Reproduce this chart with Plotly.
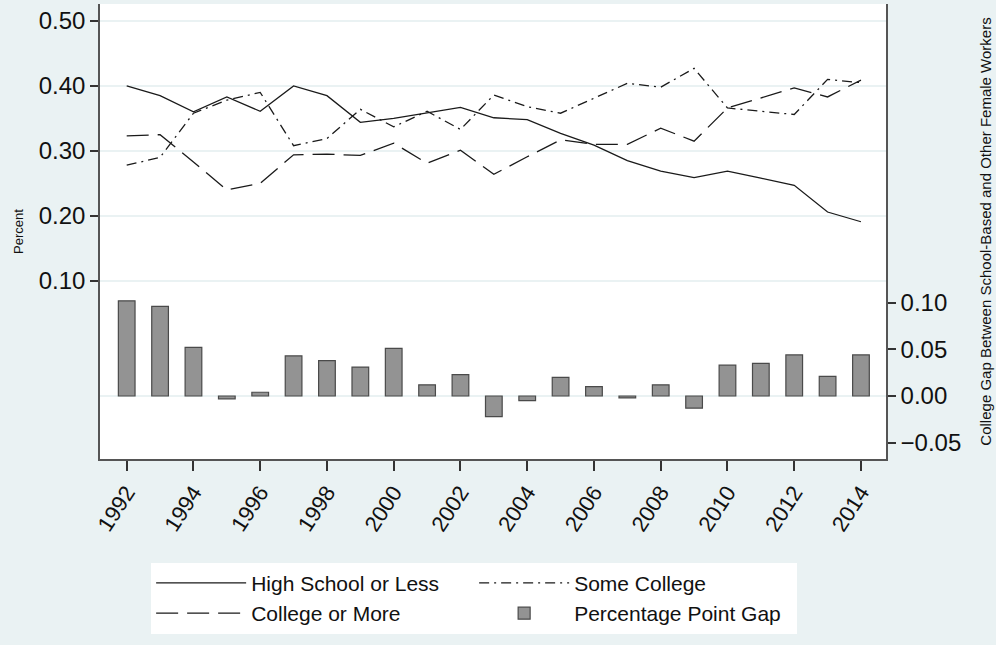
import plotly.graph_objects as go

years = list(range(1992, 2015))
high_school_or_less = [0.400, 0.385, 0.360, 0.383, 0.361, 0.400, 0.385, 0.344, 0.350, 0.358, 0.367,
                       0.351, 0.348, 0.327, 0.309, 0.285, 0.269, 0.259, 0.269, 0.258, 0.247, 0.206, 0.191]
some_college = [0.278, 0.290, 0.358, 0.378, 0.390, 0.308, 0.319, 0.364, 0.337, 0.361, 0.333,
                0.386, 0.368, 0.358, 0.381, 0.404, 0.398, 0.427, 0.366, 0.361, 0.356, 0.410, 0.405]
college_or_more = [0.323, 0.325, 0.283, 0.240, 0.250, 0.294, 0.295, 0.293, 0.312, 0.281, 0.301,
                   0.264, 0.291, 0.317, 0.310, 0.310, 0.335, 0.315, 0.366, 0.381, 0.397, 0.383, 0.409]
gap = [0.102, 0.096, 0.052, -0.003, 0.004, 0.043, 0.038, 0.031, 0.051, 0.012, 0.023,
       -0.022, -0.005, 0.020, 0.010, -0.002, 0.012, -0.013, 0.033, 0.035, 0.044, 0.021, 0.044]

left_ticks = [0.10, 0.20, 0.30, 0.40, 0.50]
right_ticks = [-0.05, 0.00, 0.05, 0.10]
x_ticks = list(range(1992, 2015, 2))

BG = "#EAF2F3"
FONT = "Liberation Sans, Arial, sans-serif"
LINE = "#1a1a1a"

fig = go.Figure()
fig.add_trace(go.Scatter(x=years, y=high_school_or_less, mode="lines", name="High School or Less",
                         line=dict(color=LINE, width=1.3, dash="solid")))
fig.add_trace(go.Scatter(x=years, y=some_college, mode="lines", name="Some College",
                         line=dict(color=LINE, width=1.3, dash="10px,5px,2px,5px")))
fig.add_trace(go.Scatter(x=years, y=college_or_more, mode="lines", name="College or More",
                         line=dict(color=LINE, width=1.3, dash="22px,9px")))
fig.add_trace(go.Bar(x=years, y=gap, name="Percentage Point Gap", yaxis="y2", width=0.5,
                     marker=dict(color="#939393", line=dict(color="#4a4a4a", width=1.2))))

fig.update_layout(
    width=996, height=645,
    margin=dict(l=100, r=106, t=4, b=186),
    paper_bgcolor=BG, plot_bgcolor="white",
    font=dict(family=FONT, color="#111"),
    showlegend=True,
    xaxis=dict(range=[1991.2, 2014.75], tickvals=x_ticks, tickangle=-57,
               ticks="outside", ticklen=10, tickwidth=1.5, tickcolor="#333",
               showline=True, linecolor="#555", linewidth=1.5, showgrid=False, zeroline=False,
               tickfont=dict(size=22, family=FONT, color="#111")),
    yaxis=dict(range=[-0.174, 0.526], tickvals=left_ticks, tickformat=".2f",
               ticks="outside", ticklen=8, tickwidth=1.5, tickcolor="#333",
               showline=True, linecolor="#555", linewidth=1.5,
               showgrid=True, gridcolor=BG, gridwidth=2, zeroline=False,
               tickfont=dict(size=24, family=FONT, color="#111"),
               title=dict(text="Percent", font=dict(size=13, family=FONT), standoff=12)),
    yaxis2=dict(range=[-0.0675, 0.42], tickvals=right_ticks, tickformat=".2f",
                overlaying="y", side="right",
                ticks="outside", ticklen=8, tickwidth=1.5, tickcolor="#333",
                showline=True, linecolor="#555", linewidth=1.5,
                showgrid=False, zeroline=True, zerolinecolor=BG, zerolinewidth=2,
                tickfont=dict(size=24, family=FONT, color="#111"),
                title=dict(text="College Gap Between School-Based and Other Female Workers",
                           font=dict(size=15, family=FONT), standoff=20)),
    legend=dict(orientation="h", x=0.476, xanchor="center", y=-0.228, yanchor="top",
                bgcolor="white", borderwidth=0, entrywidth=218, entrywidthmode="pixels",
                font=dict(size=21, family=FONT, color="#111"), traceorder="normal",
                itemwidth=90),
    bargap=0.5,
)

fig.write_html("out.html", config={"displayModeBar": False},
               post_script="document.body.style.margin='0px';")
